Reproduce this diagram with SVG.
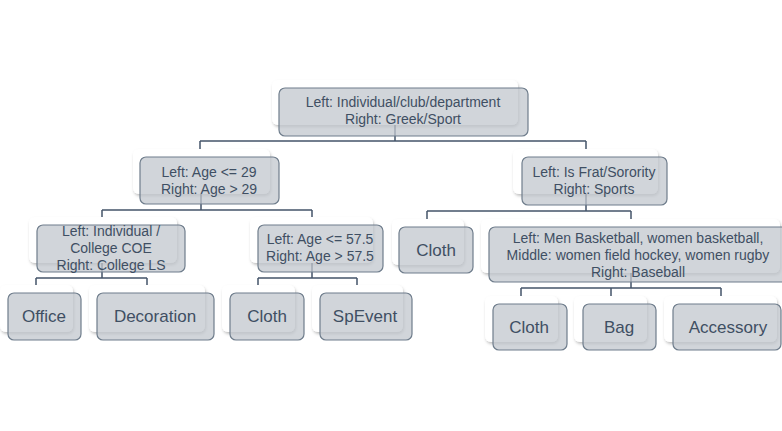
<svg xmlns="http://www.w3.org/2000/svg" width="782" height="431" viewBox="0 0 782 431">
<defs>
<filter id="sh" x="-10%" y="-20%" width="130%" height="150%">
<feDropShadow dx="1" dy="2" stdDeviation="1.5" flood-color="#000" flood-opacity="0.25"/>
</filter>
<style>
.bk{fill:#ffffff;filter:url(#sh)}
.fr{fill:#c2c7cd;fill-opacity:0.75;stroke:#6f7d8c;stroke-width:1.2}
.t{font-family:"Liberation Sans",Arial,sans-serif;fill:#3f4f63;text-anchor:middle}
.s{font-size:14px}
.b{font-size:17px}
.c{fill:none;stroke:#44546a;stroke-width:1.5}
</style>
</defs>
<rect width="782" height="431" fill="#ffffff"/>
<g id="connectors">
<path class="c" d="M395,125V141M200,141H586M200,141V149M586,141V149"/>
<path class="c" d="M201,194V210M102,210H312M102,210V217M312,210V217"/>
<path class="c" d="M586,194V211M427,211H631M427,211V219M631,211V219"/>
<path class="c" d="M102,263V278M36,278H147M36,278V285M147,278V285"/>
<path class="c" d="M312,263V278M258,278H357M258,278V285M357,278V285"/>
<path class="c" d="M631,273V288M521,288H721M521,288V296M611,288V296M721,288V296"/>
</g>
<g id="root">
<rect class="bk" x="272" y="80" width="246" height="45" rx="6"/>
<rect class="fr" x="279" y="88" width="249" height="48" rx="6"/>
<text class="t s" x="403" y="107">Left: Individual/club/department</text>
<text class="t s" x="403" y="124">Right: Greek/Sport</text>
</g>
<g id="age29">
<rect class="bk" x="133" y="149" width="137" height="45" rx="6"/>
<rect class="fr" x="140" y="157" width="139" height="47" rx="6"/>
<text class="t s" x="209" y="177">Left: Age &lt;= 29</text>
<text class="t s" x="209" y="194">Right: Age &gt; 29</text>
</g>
<g id="frat">
<rect class="bk" x="513" y="149" width="145" height="45" rx="6"/>
<rect class="fr" x="522" y="157" width="145" height="48" rx="6"/>
<text class="t s" x="594" y="177">Left: Is Frat/Sorority</text>
<text class="t s" x="594" y="194">Right: Sports</text>
</g>
<g id="college">
<rect class="bk" x="29" y="217" width="148" height="46" rx="6"/>
<rect class="fr" x="37" y="225" width="148" height="47" rx="6"/>
<text class="t s" x="111" y="236">Left: Individual /</text>
<text class="t s" x="111" y="253">College COE</text>
<text class="t s" x="111" y="270">Right: College LS</text>
</g>
<g id="age575">
<rect class="bk" x="250" y="217" width="123" height="46" rx="6"/>
<rect class="fr" x="258" y="225" width="125" height="47" rx="6"/>
<text class="t s" x="320" y="244">Left: Age &lt;= 57.5</text>
<text class="t s" x="320" y="261">Right: Age &gt; 57.5</text>
</g>
<g id="cloth-frat">
<rect class="bk" x="392" y="219" width="72" height="46" rx="6"/>
<rect class="fr" x="399" y="227" width="74" height="46" rx="6"/>
<text class="t b" x="436" y="256">Cloth</text>
</g>
<g id="sports">
<rect class="bk" x="481" y="219" width="299" height="54" rx="6"/>
<rect class="fr" x="489" y="227" width="300" height="55" rx="6"/>
<text class="t s" x="638" y="243">Left: Men Basketball, women basketball,</text>
<text class="t s" x="638" y="260">Middle: women field hockey, women rugby</text>
<text class="t s" x="638" y="277">Right: Baseball</text>
</g>
<g id="office">
<rect class="bk" x="0" y="285" width="73" height="47" rx="6"/>
<rect class="fr" x="8" y="293" width="73" height="47" rx="6"/>
<text class="t b" x="44" y="322">Office</text>
</g>
<g id="decoration">
<rect class="bk" x="89" y="285" width="116" height="47" rx="6"/>
<rect class="fr" x="97" y="293" width="117" height="47" rx="6"/>
<text class="t b" x="155" y="322">Decoration</text>
</g>
<g id="cloth-young">
<rect class="bk" x="222" y="285" width="73" height="47" rx="6"/>
<rect class="fr" x="230" y="293" width="74" height="47" rx="6"/>
<text class="t b" x="267" y="322">Cloth</text>
</g>
<g id="spevent">
<rect class="bk" x="312" y="285" width="91" height="47" rx="6"/>
<rect class="fr" x="320" y="293" width="92" height="47" rx="6"/>
<text class="t b" x="365" y="322">SpEvent</text>
</g>
<g id="cloth-sport">
<rect class="bk" x="485" y="296" width="73" height="46" rx="6"/>
<rect class="fr" x="493" y="304" width="74" height="46" rx="6"/>
<text class="t b" x="529" y="333">Cloth</text>
</g>
<g id="bag">
<rect class="bk" x="574" y="296" width="73" height="46" rx="6"/>
<rect class="fr" x="583" y="304" width="73" height="46" rx="6"/>
<text class="t b" x="619" y="333">Bag</text>
</g>
<g id="accessory">
<rect class="bk" x="664" y="296" width="113" height="46" rx="6"/>
<rect class="fr" x="673" y="304" width="108" height="46" rx="6"/>
<text class="t b" x="728" y="333">Accessory</text>
</g>
</svg>
